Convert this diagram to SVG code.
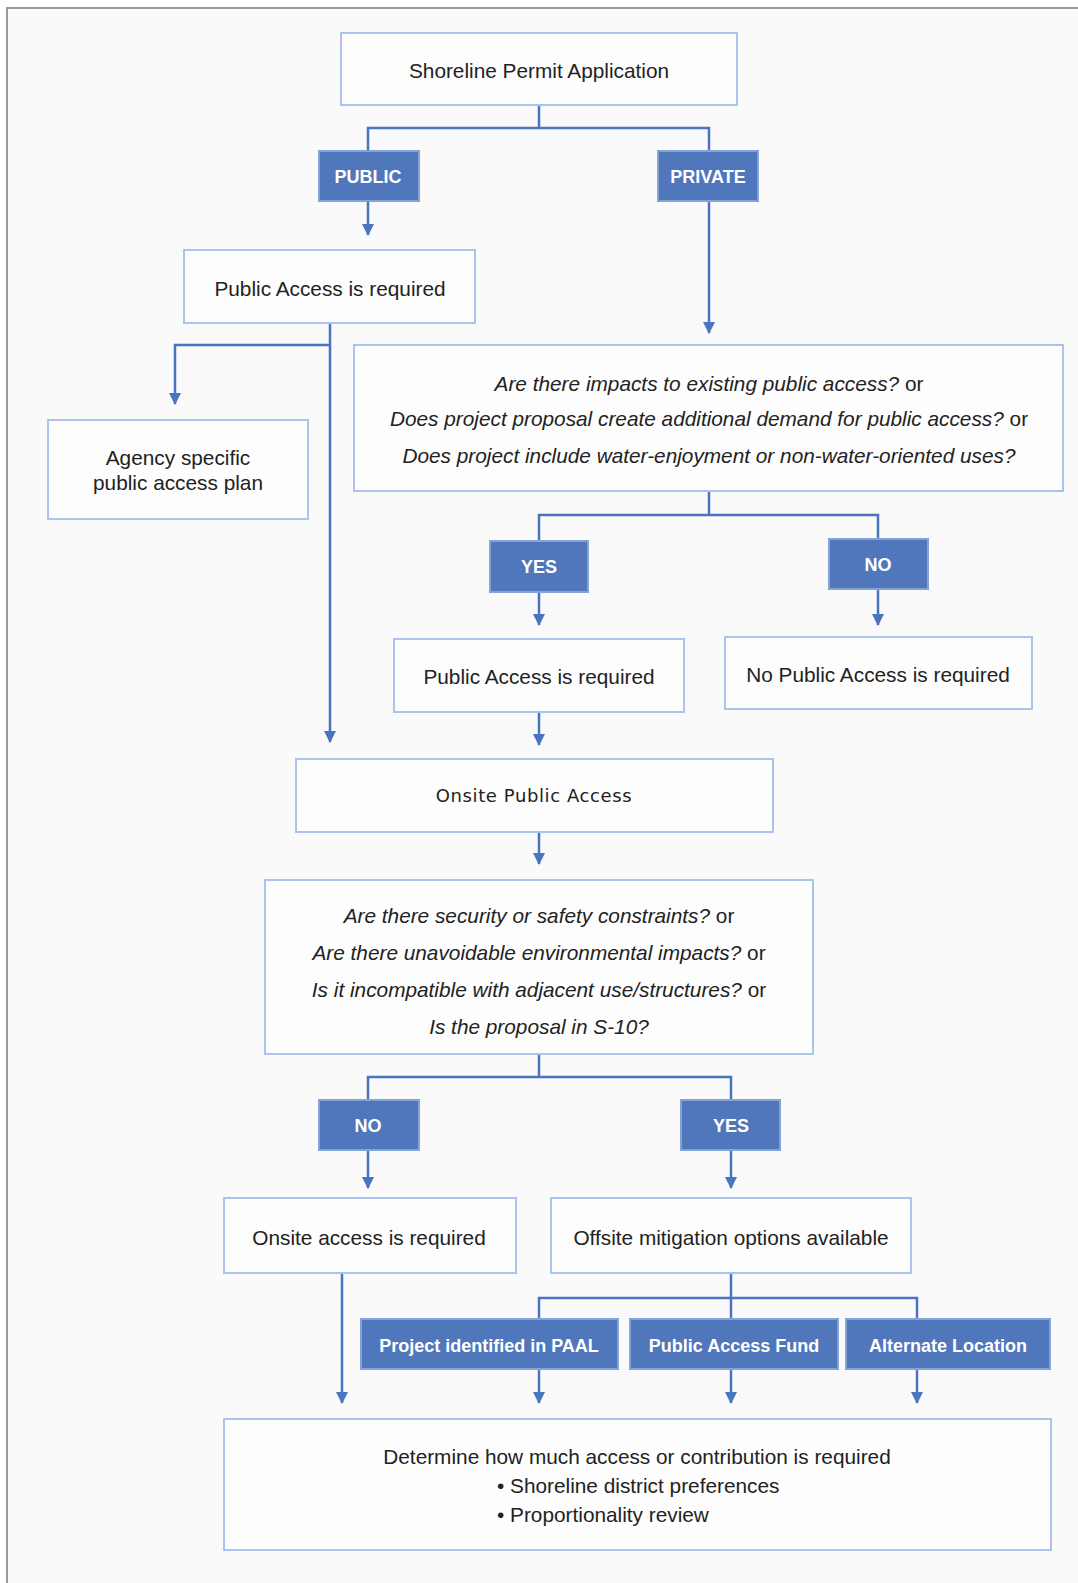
<svg xmlns="http://www.w3.org/2000/svg" width="1078" height="1583" viewBox="0 0 1078 1583">
<style>
.box{fill:#fdfdfd;stroke:#aac4ee;stroke-width:2}
.fill{fill:#5077bc;stroke:#86a3d8;stroke-width:2}
.t{font-family:"Liberation Sans",Arial,sans-serif;font-size:20.8px;fill:#222;text-anchor:middle;dominant-baseline:central}
.q{font-family:"Liberation Sans",Arial,sans-serif;font-size:20.8px;font-style:italic;fill:#222;text-anchor:middle;dominant-baseline:central}
.w{font-family:"Liberation Sans",Arial,sans-serif;font-size:18px;font-weight:bold;fill:#fff;text-anchor:middle;dominant-baseline:central}
.g{font-family:"DejaVu Sans",sans-serif;font-size:18px;letter-spacing:0.6px;fill:#222;text-anchor:middle;dominant-baseline:central}
.c{fill:none;stroke:#4a73c0;stroke-width:2.5}
</style>
<defs>
<marker id="arr" markerUnits="userSpaceOnUse" markerWidth="12" markerHeight="12" viewBox="0 0 12 12" refX="11" refY="6" orient="auto">
<path d="M0,0 L12,6 L0,12 Z" fill="#4a73c0"/>
</marker>
</defs>
<rect x="0" y="0" width="1078" height="1583" fill="#ffffff"/>
<rect x="7" y="8" width="1100" height="1600" fill="#fafafa" stroke="#9a9a9a" stroke-width="2"/>

<g id="connectors">
<polyline class="c" points="539,105 539,128"/>
<polyline class="c" points="368,151 368,128 709,128 709,151"/>
<line class="c" x1="368" y1="201" x2="368" y2="235" marker-end="url(#arr)"/>
<line class="c" x1="709" y1="201" x2="709" y2="333" marker-end="url(#arr)"/>
<line class="c" x1="330" y1="323" x2="330" y2="742" marker-end="url(#arr)"/>
<polyline class="c" points="330,345 175,345 175,404" marker-end="url(#arr)"/>
<polyline class="c" points="709,491 709,515"/>
<polyline class="c" points="539,541 539,515 878,515 878,539"/>
<line class="c" x1="539" y1="592" x2="539" y2="625" marker-end="url(#arr)"/>
<line class="c" x1="878" y1="589" x2="878" y2="625" marker-end="url(#arr)"/>
<line class="c" x1="539" y1="712" x2="539" y2="745" marker-end="url(#arr)"/>
<line class="c" x1="539" y1="832" x2="539" y2="864" marker-end="url(#arr)"/>
<polyline class="c" points="539,1054 539,1077"/>
<polyline class="c" points="368,1100 368,1077 731,1077 731,1100"/>
<line class="c" x1="368" y1="1150" x2="368" y2="1188" marker-end="url(#arr)"/>
<line class="c" x1="731" y1="1150" x2="731" y2="1188" marker-end="url(#arr)"/>
<line class="c" x1="342" y1="1273" x2="342" y2="1403" marker-end="url(#arr)"/>
<polyline class="c" points="731,1273 731,1319"/>
<polyline class="c" points="539,1319 539,1298 917,1298 917,1319"/>
<line class="c" x1="539" y1="1369" x2="539" y2="1403" marker-end="url(#arr)"/>
<line class="c" x1="731" y1="1369" x2="731" y2="1403" marker-end="url(#arr)"/>
<line class="c" x1="917" y1="1369" x2="917" y2="1403" marker-end="url(#arr)"/>
</g>

<g id="n-app"><rect class="box" x="341" y="33" width="396" height="72"/><text class="t" x="539" y="70">Shoreline Permit Application</text></g>
<g id="n-public"><rect class="fill" x="319" y="151" width="100" height="50"/><text class="w" x="368" y="177">PUBLIC</text></g>
<g id="n-private"><rect class="fill" x="658" y="151" width="100" height="50"/><text class="w" x="708" y="177">PRIVATE</text></g>
<g id="n-pa1"><rect class="box" x="184" y="250" width="291" height="73"/><text class="t" x="330" y="288">Public Access is required</text></g>
<g id="n-agency"><rect class="box" x="48" y="420" width="260" height="99"/><text class="t" x="178" y="457">Agency specific</text><text class="t" x="178" y="482.5">public access plan</text></g>
<g id="n-q1"><rect class="box" x="354" y="345" width="709" height="146"/>
<text class="q" x="709" y="383">Are there impacts to existing public access?<tspan font-style="normal"> or</tspan></text>
<text class="q" x="709" y="418">Does project proposal create additional demand for public access?<tspan font-style="normal"> or</tspan></text>
<text class="q" x="709" y="455">Does project include water-enjoyment or non-water-oriented uses?</text></g>
<g id="n-yes1"><rect class="fill" x="490" y="541" width="98" height="51"/><text class="w" x="539" y="567">YES</text></g>
<g id="n-no1"><rect class="fill" x="829" y="539" width="99" height="50"/><text class="w" x="878" y="565">NO</text></g>
<g id="n-pa2"><rect class="box" x="394" y="639" width="290" height="73"/><text class="t" x="539" y="676">Public Access is required</text></g>
<g id="n-nopa"><rect class="box" x="725" y="637" width="307" height="72"/><text class="t" x="878" y="674">No Public Access is required</text></g>
<g id="n-onsite"><rect class="box" x="296" y="759" width="477" height="73"/><text class="g" x="534" y="795">Onsite Public Access</text></g>
<g id="n-q2"><rect class="box" x="265" y="880" width="548" height="174"/>
<text class="q" x="539" y="915">Are there security or safety constraints?<tspan font-style="normal"> or</tspan></text>
<text class="q" x="539" y="952">Are there unavoidable environmental impacts?<tspan font-style="normal"> or</tspan></text>
<text class="q" x="539" y="989">Is it incompatible with adjacent use/structures?<tspan font-style="normal"> or</tspan></text>
<text class="q" x="539" y="1026">Is the proposal in S-10?</text></g>
<g id="n-no2"><rect class="fill" x="319" y="1100" width="100" height="50"/><text class="w" x="368" y="1126">NO</text></g>
<g id="n-yes2"><rect class="fill" x="681" y="1100" width="99" height="50"/><text class="w" x="731" y="1126">YES</text></g>
<g id="n-onsitereq"><rect class="box" x="224" y="1198" width="292" height="75"/><text class="t" x="369" y="1237">Onsite access is required</text></g>
<g id="n-offsite"><rect class="box" x="551" y="1198" width="360" height="75"/><text class="t" x="731" y="1237">Offsite mitigation options available</text></g>
<g id="n-paal"><rect class="fill" x="361" y="1319" width="257" height="50"/><text class="w" x="489" y="1345.5">Project identified in PAAL</text></g>
<g id="n-fund"><rect class="fill" x="630" y="1319" width="208" height="50"/><text class="w" x="734" y="1345.5">Public Access Fund</text></g>
<g id="n-alt"><rect class="fill" x="846" y="1319" width="204" height="50"/><text class="w" x="948" y="1345.5">Alternate Location</text></g>
<g id="n-final"><rect class="box" x="224" y="1419" width="827" height="131"/>
<text class="t" x="637" y="1456">Determine how much access or contribution is required</text>
<text class="t" x="497" y="1485" style="text-anchor:start">• Shoreline district preferences</text>
<text class="t" x="497" y="1514" style="text-anchor:start">• Proportionality review</text></g>
</svg>
